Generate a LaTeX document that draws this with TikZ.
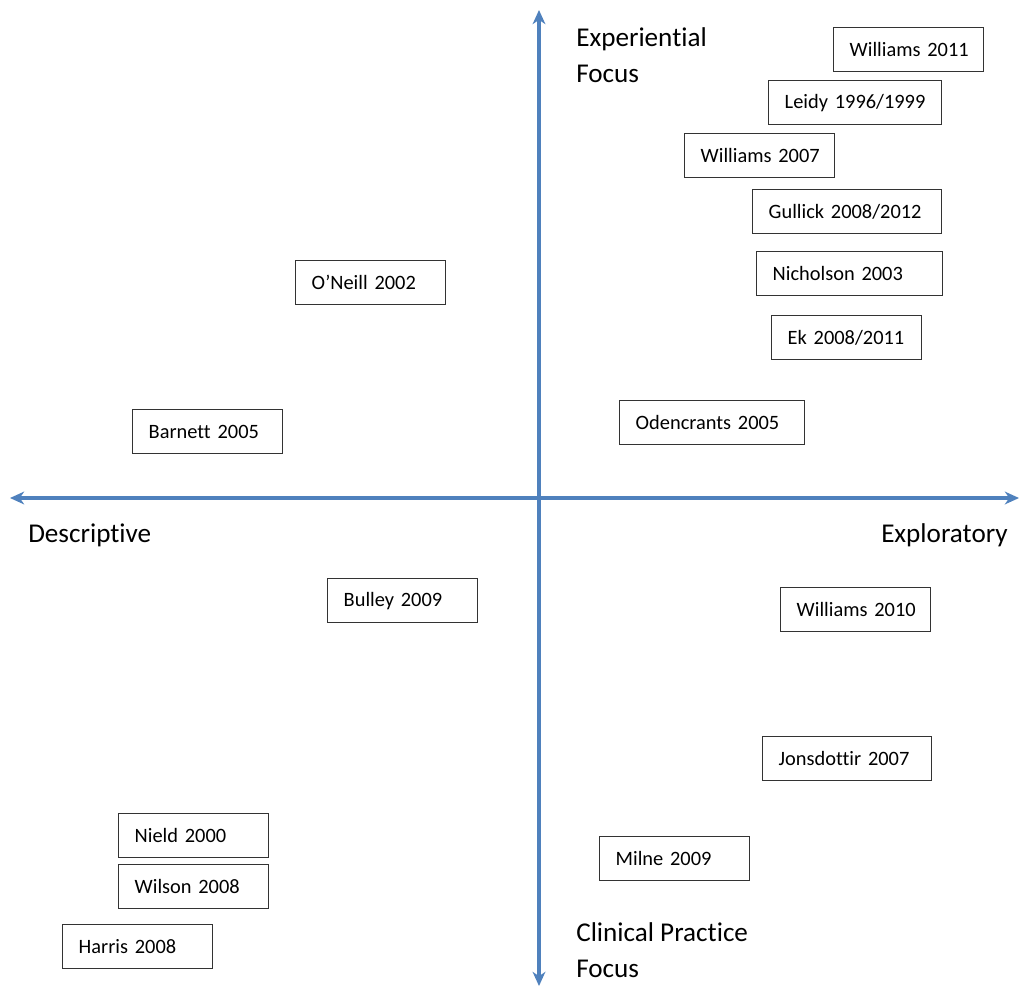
\documentclass[tikz,border=0pt]{standalone}
\usepackage{fontspec}
\setmainfont{Carlito}[Ligatures=CommonOff]
\usetikzlibrary{arrows.meta}
\definecolor{axisblue}{RGB}{79,129,189}
\begin{document}
\begin{tikzpicture}[x=0.025cm,y=-0.025cm,
    axis/.style={draw=axisblue,line width=2.4pt,{Stealth[length=10pt,width=9pt,inset=3pt]}-{Stealth[length=10pt,width=9pt,inset=3pt]}},
    study/.style={draw=black!80,line width=1pt,anchor=north west,inner xsep=0.4cm,inner ysep=0pt,minimum height=1.1cm,align=left,font=\fontsize{14.5}{17}\selectfont},
    focus/.style={inner sep=0pt,align=left,font=\fontsize{19.3}{25.5}\selectfont}]
    \useasboundingbox (0,0) rectangle (1020,987);
    % axes
    \coordinate (top) at (539,10);
    \coordinate (bottom) at (539,986);
    \coordinate (left) at (10,498);
    \coordinate (right) at (1019,498);
    \draw[axis] (bottom) -- (top);
    \draw[axis] (left) -- (right);
    % axis labels
    \node[focus,anchor=west] (exper) at (576,55) {Experiential\\Focus};
    \node[focus,anchor=west] (clin) at (576,950) {Clinical Practice\\Focus};
    \node[focus,anchor=west] (descr) at (28,535) {Descriptive};
    \node[focus,anchor=east] (explo) at (1008,535) {Exploratory};
    % upper right
    \node[study,text width=2.95cm] (will11) at (833,27) {Williams~2011};
    \node[study,text width=3.525cm] (leidy) at (768,80) {Leidy~1996/1999};
    \node[study,text width=2.95cm] (will07) at (684,133) {Williams~2007};
    \node[study,text width=3.925cm] (gull) at (752,189) {Gullick~2008/2012};
    \node[study,text width=3.85cm] (nich) at (756,251) {Nicholson~2003};
    \node[study,text width=2.95cm] (ek) at (771,315) {Ek~2008/2011};
    \node[study,text width=3.825cm] (oden) at (619,400) {Odencrants~2005};
    % upper left
    \node[study,text width=2.95cm] (oneill) at (295,260) {O’Neill~2002};
    \node[study,text width=2.95cm] (barn) at (132,409) {Barnett~2005};
    % lower left
    \node[study,text width=2.95cm] (bulley) at (327,578) {Bulley~2009};
    \node[study,text width=2.95cm] (nield) at (118,813) {Nield~2000};
    \node[study,text width=2.95cm] (wilson) at (118,864) {Wilson~2008};
    \node[study,text width=2.95cm] (harris) at (62,924) {Harris~2008};
    % lower right
    \node[study,text width=2.95cm] (will10) at (780,587) {Williams~2010};
    \node[study,text width=3.425cm] (jons) at (762,736) {Jonsdottir~2007};
    \node[study,text width=2.95cm] (milne) at (599,836) {Milne~2009};
\end{tikzpicture}
\end{document}
